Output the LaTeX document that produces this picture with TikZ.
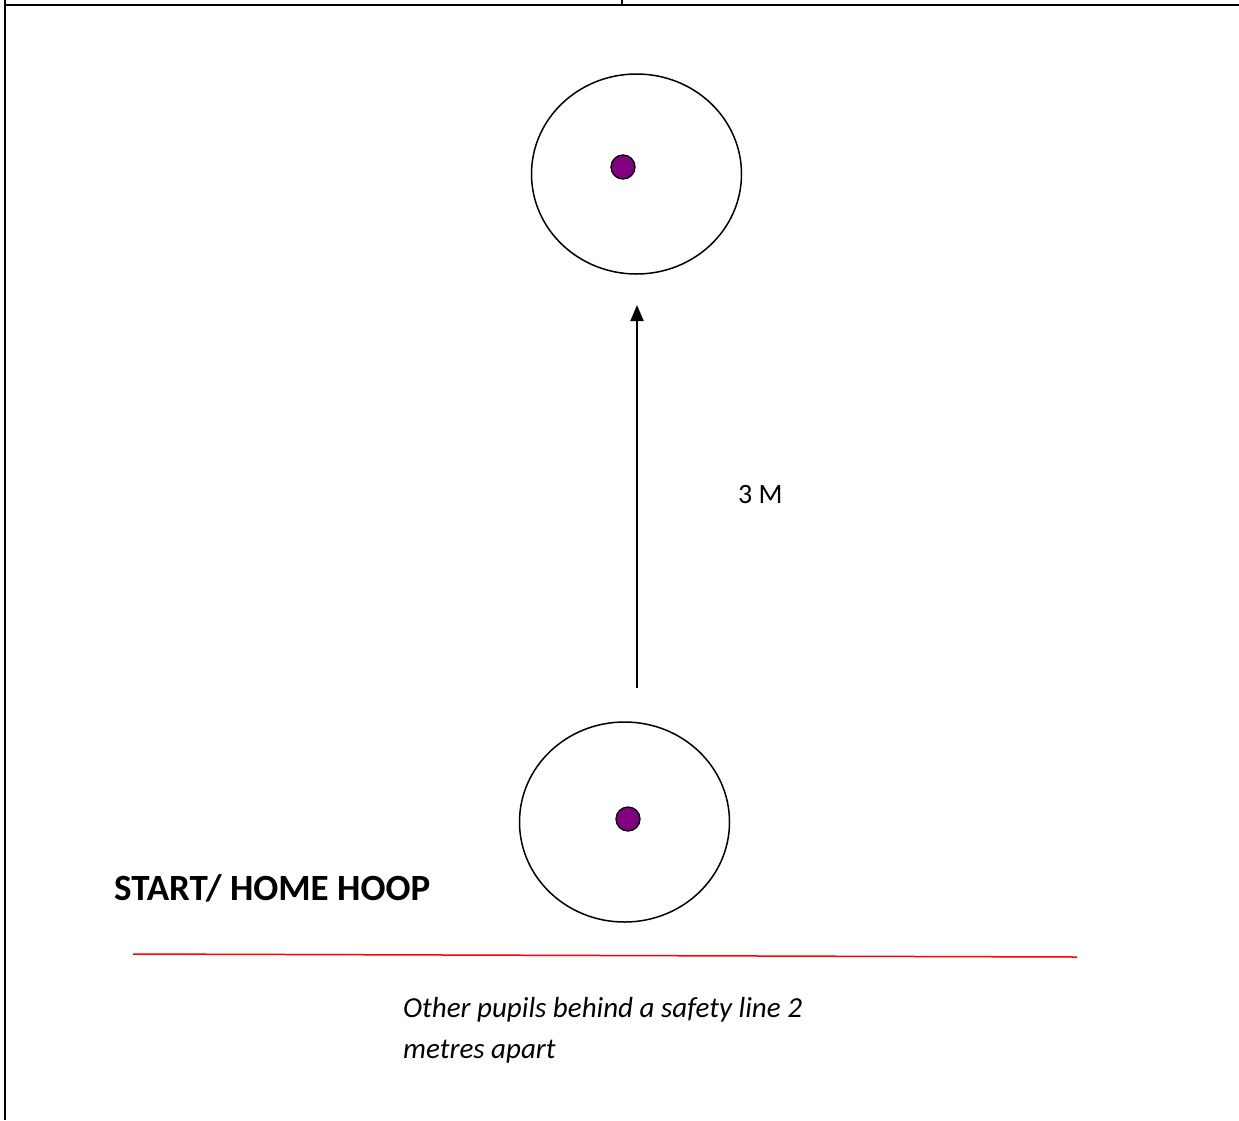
\documentclass[tikz,border=0pt]{standalone}
\usepackage{fontspec}
\setmainfont{Carlito}
\usetikzlibrary{shapes.geometric,arrows.meta}
\definecolor{dotpurple}{HTML}{800080}
\tikzset{
  hoop/.style={draw=black, line width=1.5pt, ellipse, minimum width=210pt, minimum height=200pt, inner sep=0pt},
  pupil/.style={draw=black, line width=1.3pt, circle, fill=dotpurple, minimum size=24pt, inner sep=0pt},
  frame/.style={line width=2pt, black},
  lbl/.style={inner sep=0pt, anchor=base west}
}
\begin{document}
\begin{tikzpicture}[x=1pt,y=-1pt]
\useasboundingbox (0,0) rectangle (1239,1120);
% frame
\draw[frame] (5,5) -- (1239,5);
\draw[frame] (5,0) -- (5,1120);
\draw[line width=1.5pt] (622,0) -- (622,5);
% hoops
\node[hoop] (tophoop) at (636.5,174) {};
\node[pupil] (topdot) at (623,167) {};
\node[hoop] (homehoop) at (624.5,822) {};
\node[pupil] (homedot) at (628,819) {};
% arrow
\coordinate (arrstart) at (637,688);
\coordinate (arrend) at (637,305);
\draw[line width=2pt, -{Triangle[width=13pt,length=16pt]}] (arrstart) -- (arrend);
\node[lbl, font=\fontsize{28}{32}\selectfont] (dist) at (738,503) {3 M};
% labels
\node[lbl, font=\fontsize{37}{42}\selectfont\bfseries] (start) at (114,900) {START/ HOME HOOP};
\coordinate (redl) at (133,954);
\coordinate (redr) at (1077,957);
\draw[red, line width=1.5pt] (redl) -- (redr);
\node[lbl, font=\fontsize{29}{34}\selectfont\itshape] (note1) at (403,1017) {Other pupils behind a safety line 2};
\node[lbl, font=\fontsize{29}{34}\selectfont\itshape] (note2) at (403,1058) {metres apart};
\end{tikzpicture}
\end{document}
